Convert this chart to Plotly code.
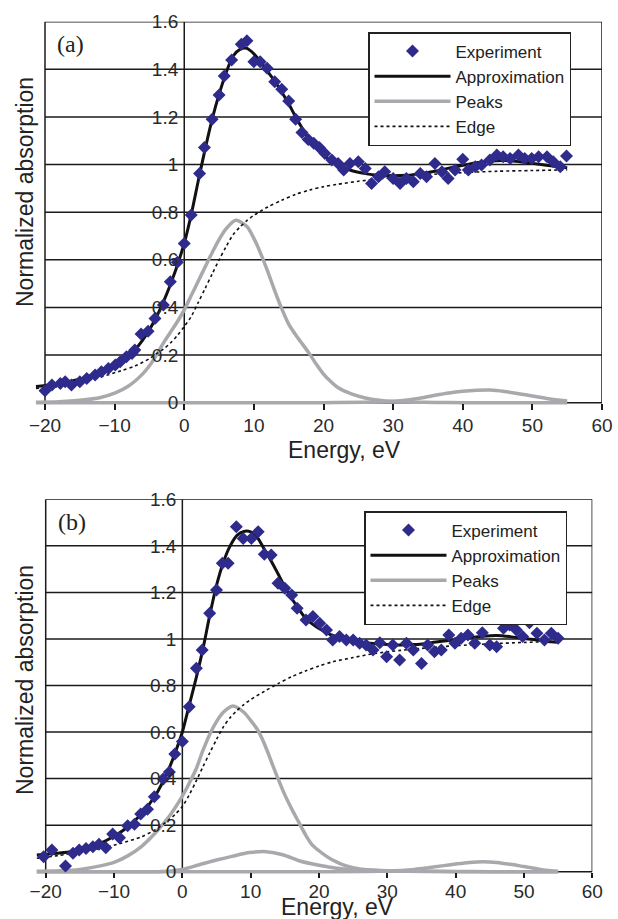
import plotly.graph_objects as go

W, H = 618, 919

# ---------------- data : panel (a) ----------------
exp_a_x = [-20.0, -19.0, -17.8, -17.1, -16.2, -15.0, -14.0, -12.8, -11.9, -10.9, -9.9, -9.2, -8.3, -7.5,
           -7.1, -6.2, -5.2, -4.2, -3.0, -2.0, -1.0, 0.0, 1.0, 2.2, 2.9, 4.0, 5.0, 5.75, 6.8, 8.2, 9.0,
           10.0, 10.9, 11.9, 13.0, 14.0, 15.0, 16.0, 16.9, 17.8, 18.6, 19.4, 20.2, 21.2, 22.1, 22.9, 23.8,
           25.0, 26.0, 26.9, 27.9, 28.8, 30.0, 31.0, 31.9, 32.9, 33.9, 34.8, 36.0, 37.0, 37.9, 38.9, 40.0,
           40.8, 41.8, 42.7, 43.9, 44.9, 45.8, 46.8, 48.0, 48.9, 49.9, 50.9, 52.1, 53.0, 54.0, 54.9]
exp_a_y = [0.05, 0.074, 0.081, 0.088, 0.074, 0.088, 0.102, 0.116, 0.13, 0.144, 0.158, 0.172, 0.193, 0.207,
           0.221, 0.288, 0.3, 0.354, 0.41, 0.508, 0.59, 0.669, 0.788, 0.963, 1.072, 1.19, 1.292, 1.372, 1.439,
           1.505, 1.52, 1.432, 1.432, 1.404, 1.348, 1.316, 1.267, 1.19, 1.135, 1.105, 1.09, 1.072, 1.047,
           1.019, 1.005, 0.977, 1.005, 1.012, 0.984, 0.921, 0.949, 0.970, 0.942, 0.921, 0.942, 0.928, 0.963,
           0.949, 1.005, 0.970, 0.942, 0.977, 1.022, 0.977, 0.991, 0.998, 1.019, 1.040, 1.033, 1.026, 1.040,
           1.026, 1.026, 1.033, 1.033, 1.012, 0.991, 1.036]

fit_a_x = [-21.3, -20, -18, -16, -14, -12, -10, -8, -6, -4, -2, 0, 1, 2, 3, 4, 5, 6, 7, 8, 9, 10, 11, 12,
           13, 14, 15, 16, 17, 18, 19, 20, 22, 24, 26, 28, 30, 32, 34, 36, 38, 40, 42, 44, 46, 48, 50, 52,
           54, 55]
fit_a_y = [0.068, 0.072, 0.08, 0.092, 0.107, 0.127, 0.155, 0.195, 0.262, 0.36, 0.495, 0.67, 0.79, 0.93,
           1.065, 1.19, 1.295, 1.385, 1.455, 1.484, 1.488, 1.465, 1.43, 1.39, 1.35, 1.305, 1.255, 1.2, 1.15,
           1.105, 1.07, 1.04, 1.0, 0.975, 0.962, 0.955, 0.953, 0.955, 0.962, 0.972, 0.985, 0.997, 1.008,
           1.015, 1.017, 1.013, 1.005, 0.997, 0.99, 0.987]

peak1_a_x = [-21.3, -18, -15, -12, -10, -8, -6, -5, -4, -3, -2, -1, 0, 1, 2, 3, 4, 5, 6, 7.4, 9, 10, 11,
             12, 13, 14, 15, 16, 17, 18, 19, 20, 21, 22, 24, 26, 28, 30, 33, 36, 40, 45, 50, 55]
peak1_a_y = [0.002, 0.004, 0.01, 0.022, 0.04, 0.07, 0.12, 0.155, 0.2, 0.25, 0.295, 0.34, 0.39, 0.45, 0.51,
             0.57, 0.63, 0.685, 0.73, 0.766, 0.74, 0.69, 0.625, 0.55, 0.47, 0.395, 0.33, 0.285, 0.245, 0.205,
             0.16, 0.12, 0.09, 0.065, 0.037, 0.02, 0.01, 0.005, 0.002, 0.001, 0, 0, 0, 0]

peak2_a_x = [-21.3, 0, 20, 26, 30, 32, 34, 36, 38, 40, 42, 44, 46, 48, 50, 52, 54, 55]
peak2_a_y = [0, 0, 0, 0.002, 0.006, 0.011, 0.02, 0.031, 0.041, 0.048, 0.052, 0.053, 0.047, 0.038, 0.028,
             0.018, 0.01, 0.007]

edge_a_x = [-21.3, -18, -15, -12, -9, -7, -5, -4, -3, -2, -1, 0, 1, 2, 3, 4, 5, 6, 7, 8, 9, 10, 12, 14,
            16, 18, 20, 22, 25, 28, 31, 35, 40, 45, 50, 55]
edge_a_y = [0.06, 0.068, 0.085, 0.108, 0.135, 0.155, 0.185, 0.205, 0.225, 0.25, 0.282, 0.32, 0.362, 0.42,
            0.48, 0.54, 0.6, 0.655, 0.705, 0.738, 0.765, 0.787, 0.822, 0.85, 0.875, 0.893, 0.907, 0.917,
            0.93, 0.94, 0.949, 0.958, 0.966, 0.972, 0.975, 0.978]

# ---------------- data : panel (b) ----------------
exp_b_x = [-20.3, -19.1, -17.1, -16.0, -15.1, -14.1, -13.1, -12.2, -11.2, -10.2, -9.2, -8.0, -7.0, -6.1,
           -5.1, -4.1, -2.8, -1.9, -1.1, 0.0, 1.0, 2.05, 2.9, 4.0, 5.0, 5.85, 6.7, 7.9, 8.9, 10.1, 11.1,
           12.0, 13.0, 14.0, 15.0, 16.0, 16.8, 18.1, 19.1, 20.1, 21.1, 22.0, 23.0, 24.0, 25.0, 25.95, 26.9,
           27.9, 28.9, 29.9, 30.8, 31.8, 32.8, 33.8, 35.0, 35.9, 36.9, 37.9, 39.0, 39.9, 40.8, 41.8, 42.8,
           43.9, 45.0, 46.0, 47.0, 47.9, 48.9, 49.8, 50.8, 51.9, 53.0, 54.0, 55.0]
exp_b_y = [0.064, 0.093, 0.025, 0.079, 0.093, 0.10, 0.107, 0.118, 0.103, 0.162, 0.146, 0.197, 0.204, 0.248,
           0.268, 0.322, 0.398, 0.428, 0.506, 0.559, 0.709, 0.874, 0.953, 1.11, 1.21, 1.325, 1.325, 1.482,
           1.432, 1.432, 1.461, 1.364, 1.361, 1.239, 1.218, 1.189, 1.132, 1.081, 1.096, 1.067, 1.038, 0.995,
           1.01, 0.995, 0.995, 0.981, 0.974, 0.953, 0.984, 0.924, 0.974, 0.91, 0.981, 0.953, 0.895, 0.974,
           0.945, 0.953, 1.017, 0.981, 1.003, 1.017, 0.981, 1.027, 0.974, 0.967, 1.046, 1.06, 1.038, 1.01,
           1.07, 1.024, 0.995, 1.024, 1.003]

fit_b_x = [-21.3, -20, -18, -16, -14, -12, -10, -8, -6, -4, -2, -1, 0, 1, 2, 3, 4, 5, 6, 7, 8, 9, 10, 11,
           12, 13, 14, 15, 16, 17, 18, 19, 20, 22, 24, 26, 28, 30, 32, 34, 36, 38, 40, 42, 44, 46, 48, 50,
           52, 54, 55]
fit_b_y = [0.072, 0.075, 0.08, 0.088, 0.102, 0.122, 0.152, 0.192, 0.248, 0.325, 0.44, 0.515, 0.6, 0.715,
           0.83, 0.955, 1.1, 1.23, 1.33, 1.4, 1.445, 1.462, 1.46, 1.435, 1.385, 1.335, 1.28, 1.225, 1.175,
           1.13, 1.09, 1.065, 1.045, 1.015, 1.0, 0.987, 0.98, 0.976, 0.974, 0.976, 0.982, 0.99, 0.997, 1.005,
           1.012, 1.015, 1.01, 1.002, 0.995, 0.988, 0.986]

peak1_b_x = [-21.3, -18, -15, -12, -10, -8, -6, -4, -2, 0, 1, 2, 3, 4, 5, 6, 7.4, 9, 10, 11, 12, 13, 14,
             15, 16, 17, 18, 19, 20, 21, 22, 23, 24, 26, 28, 30, 35, 40, 45, 50, 55]
peak1_b_y = [0.002, 0.004, 0.01, 0.025, 0.04, 0.068, 0.108, 0.165, 0.235, 0.325, 0.38, 0.44, 0.52, 0.59,
             0.645, 0.685, 0.712, 0.685, 0.65, 0.61, 0.55, 0.475, 0.4, 0.33, 0.27, 0.215, 0.16, 0.115, 0.09,
             0.068, 0.05, 0.036, 0.025, 0.012, 0.007, 0.004, 0.002, 0.001, 0, 0, 0]

peak2_b_x = [-21.3, -5, -3, 0, 2.5, 5, 7.4, 9.85, 12.3, 14.7, 17.2, 20, 23, 26, 30, 40, 55]
peak2_b_y = [0, 0, 0.001, 0.01, 0.03, 0.05, 0.067, 0.082, 0.086, 0.073, 0.046, 0.028, 0.014, 0.007, 0.003,
             0, 0]

peak3_b_x = [-21.3, 20, 30, 34, 36, 38, 40, 42, 44, 46, 48, 50, 52, 54, 55]
peak3_b_y = [0, 0, 0.003, 0.01, 0.017, 0.025, 0.033, 0.04, 0.043, 0.04, 0.032, 0.022, 0.012, 0.004, 0.002]

edge_b_x = [-21.3, -18, -15, -12, -9, -6, -4, -2, -1, 0, 1, 2, 3, 4, 5, 6, 7, 8, 9, 10, 12, 14, 16, 18,
            20, 22, 25, 28, 32, 36, 40, 45, 50, 55]
edge_b_y = [0.058, 0.07, 0.085, 0.1, 0.122, 0.15, 0.18, 0.222, 0.248, 0.28, 0.33, 0.388, 0.45, 0.51, 0.568,
            0.622, 0.662, 0.693, 0.718, 0.74, 0.775, 0.808, 0.838, 0.862, 0.884, 0.902, 0.92, 0.937, 0.951,
            0.962, 0.971, 0.979, 0.985, 0.99]

x_ticks = [-20, -10, 0, 10, 20, 30, 40, 50, 60]
y_ticks = [0, 0.2, 0.4, 0.6, 0.8, 1.0, 1.2, 1.4, 1.6]
x_title = "Energy, eV"
y_title = "Normalized absorption"
names = ["Experiment", "Approximation", "Peaks", "Edge"]
panel_labels = ["(a)", "(b)"]

# ---------------- styling / layout ----------------
FONT = "Liberation Sans, Arial, Helvetica, sans-serif"
NAVY = "#2E2B8C"
GREY = "#A9A9AD"
GRID = "#1a1a1a"
XMIN, XMAX = -21.6, 60
YMIN, YMAX = -0.015, 1.6

# pixel geometry per panel: (px of x=-20, px of x=60, px of y=0, px of y=1.6)
geom = [(45.0, 602.0, 402.7, 21.7), (45.7, 592.3, 871.7, 499.3)]

fig = go.Figure()

panels = [
    dict(ex=exp_a_x, ey=exp_a_y, fx=fit_a_x, fy=fit_a_y,
         peaks=[(peak1_a_x, peak1_a_y), (peak2_a_x, peak2_a_y)], gx=edge_a_x, gy=edge_a_y),
    dict(ex=exp_b_x, ey=exp_b_y, fx=fit_b_x, fy=fit_b_y,
         peaks=[(peak1_b_x, peak1_b_y), (peak2_b_x, peak2_b_y), (peak3_b_x, peak3_b_y)],
         gx=edge_b_x, gy=edge_b_y),
]

shapes = []
annotations = []
for i, (p, g) in enumerate(zip(panels, geom)):
    sfx = "" if i == 0 else str(i + 1)
    xa, ya = "x" + sfx, "y" + sfx
    leg = "legend" + sfx
    pxm20, px60, py0, py16 = g
    ppx = (px60 - pxm20) / 80.0
    ppy = (py0 - py16) / 1.6
    left_px = pxm20 - (-20 - XMIN) * ppx
    bottom_px = py0 + (0 - YMIN) * ppy
    xdom = [left_px / W, px60 / W]
    ydom = [1 - bottom_px / H, 1 - py16 / H]
    x0_paper = (pxm20 + 20 * ppx) / W
    y0_paper = 1 - py0 / H

    # traces
    for k, (px_, py_) in enumerate(p["peaks"]):
        fig.add_trace(go.Scatter(x=px_, y=py_, mode="lines", name=names[2], legendrank=3,
                                 showlegend=(k == 0), legend=leg,
                                 line=dict(color=GREY, width=3.5, shape="spline", smoothing=0.8),
                                 xaxis=xa, yaxis=ya))
    fig.add_trace(go.Scatter(x=p["gx"], y=p["gy"], mode="lines", name=names[3], legendrank=4, legend=leg,
                             line=dict(color="#111111", width=1.6, dash="3px,3px", shape="spline",
                                       smoothing=0.8),
                             xaxis=xa, yaxis=ya))
    fig.add_trace(go.Scatter(x=p["fx"], y=p["fy"], mode="lines", name=names[1], legendrank=2, legend=leg,
                             line=dict(color="#111111", width=3, shape="spline", smoothing=0.8),
                             xaxis=xa, yaxis=ya))
    fig.add_trace(go.Scatter(x=p["ex"], y=p["ey"], mode="markers", name=names[0], legendrank=1, legend=leg,
                             marker=dict(symbol="diamond", size=10, color=NAVY, line=dict(width=0)),
                             xaxis=xa, yaxis=ya))

    axis_font = dict(family=FONT, size=19, color="#2a2a2a")
    fig.layout["xaxis" + sfx] = dict(domain=xdom, range=[XMIN, XMAX], tickvals=x_ticks,
                                     ticks="outside", ticklen=6 if i == 0 else 5, tickwidth=1.5,
                                     tickcolor=GRID, showgrid=False, zeroline=False, showline=False,
                                     anchor="free", position=y0_paper, tickfont=axis_font,
                                     ticklabelstandoff=-1 if i == 0 else -3, automargin=False)
    fig.layout["yaxis" + sfx] = dict(domain=ydom, range=[YMIN, YMAX], tickvals=y_ticks,
                                     ticks="", showgrid=False, zeroline=False, showline=False,
                                     anchor="free", position=x0_paper, tickfont=axis_font,
                                     ticklabelstandoff=6, automargin=False)

    # frame and grid (layout decoration, from axis values)
    lw = dict(color=GRID, width=1.5)
    for v in y_ticks:
        shapes.append(dict(type="line", xref=xa, yref=ya, x0=x_ticks[0], x1=x_ticks[-1], y0=v, y1=v,
                           line=lw, layer="below"))
    for v in (x_ticks[0], 0, x_ticks[-1]):
        shapes.append(dict(type="line", xref=xa, yref=ya, x0=v, x1=v, y0=y_ticks[0], y1=y_ticks[-1],
                           line=lw, layer="below"))

    # panel label
    annotations.append(dict(text=panel_labels[i], xref="paper", yref="paper",
                            x=(70 if i == 0 else 72) / W, y=1 - (43.5 if i == 0 else 522) / H,
                            xanchor="center", yanchor="middle", showarrow=False,
                            font=dict(family="Liberation Serif, Times New Roman, serif", size=24,
                                      color="#222")))
    # axis titles
    annotations.append(dict(text=x_title, xref="paper", yref="paper",
                            x=(344 if i == 0 else 337) / W, y=1 - (450 if i == 0 else 907) / H,
                            xanchor="center", yanchor="middle", showarrow=False,
                            font=dict(family=FONT, size=23, color="#222")))
    annotations.append(dict(text=y_title, xref="paper", yref="paper", textangle=-90,
                            x=25 / W, y=1 - (192 if i == 0 else 680) / H,
                            xanchor="center", yanchor="middle", showarrow=False,
                            font=dict(family=FONT, size=23, color="#222")))

leg_common = dict(bgcolor="white", bordercolor="#222", borderwidth=1.5, xanchor="left", yanchor="top",
                  font=dict(family=FONT, size=17, color="#222"), tracegroupgap=0, itemwidth=76)
fig.update_layout(
    width=W, height=H, margin=dict(l=0, r=0, t=0, b=0),
    paper_bgcolor="white", plot_bgcolor="white",
    shapes=shapes, annotations=annotations,
    legend=dict(x=368 / W, y=1 - 32 / H, **leg_common),
    legend2=dict(x=364 / W, y=1 - 511 / H, **leg_common),
)

fig.write_html("out.html", config={"displayModeBar": False},
               post_script="document.body.style.margin='0';document.body.style.overflow='hidden';")
